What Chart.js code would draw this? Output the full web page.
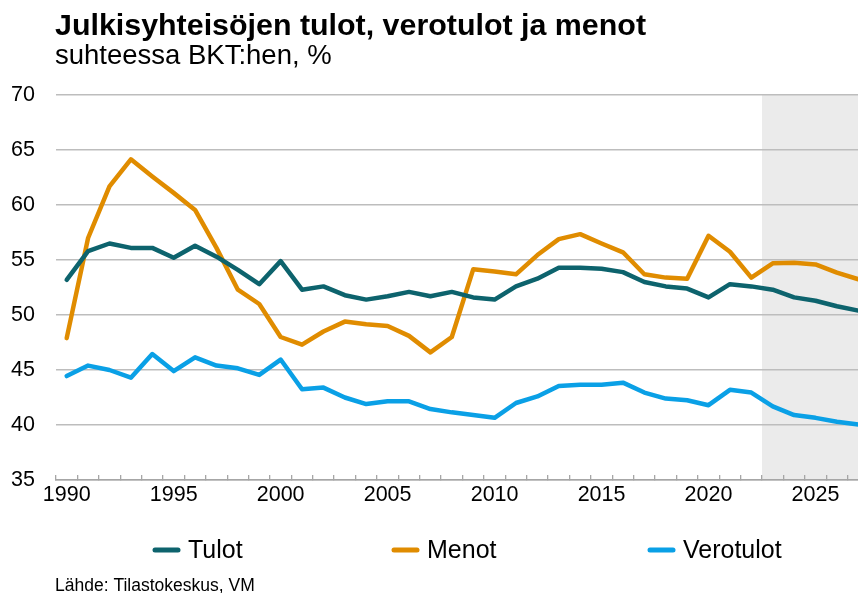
<!DOCTYPE html>
<html>
<head>
<meta charset="utf-8">
<script src="https://cdn.jsdelivr.net/npm/chart.js@4.4.0/dist/chart.umd.min.js"></script>
<style>
html, body { margin: 0; padding: 0; background: #fff; overflow: hidden; }
#wrap { width: 880px; height: 593px; position: relative; }
</style>
</head>
<body>
<div id="wrap"><canvas id="chart"></canvas></div>
<script>
"use strict";
const years = ["1990", "1991", "1992", "1993", "1994", "1995", "1996", "1997", "1998", "1999",
    "2000", "2001", "2002", "2003", "2004", "2005", "2006", "2007", "2008", "2009",
    "2010", "2011", "2012", "2013", "2014", "2015", "2016", "2017", "2018", "2019",
    "2020", "2021", "2022", "2023", "2024", "2025", "2026", "2027"];
const tulot = [53.2, 55.8, 56.5, 56.1, 56.1, 55.2, 56.3, 55.3, 54.1, 52.8,
    54.9, 52.3, 52.6, 51.8, 51.4, 51.7, 52.1, 51.7, 52.1, 51.6,
    51.4, 52.6, 53.3, 54.3, 54.3, 54.2, 53.9, 53.0, 52.6, 52.4,
    51.6, 52.8, 52.6, 52.3, 51.6, 51.3, 50.8, 50.4];
const menot = [47.9, 57.0, 61.7, 64.15, 62.6, 61.1, 59.55, 56.1, 52.3, 51.0,
    48.0, 47.3, 48.5, 49.4, 49.15, 49.0, 48.1, 46.6, 48.0, 54.15,
    53.95, 53.7, 55.45, 56.9, 57.35, 56.5, 55.7, 53.7, 53.4, 53.3,
    57.2, 55.75, 53.4, 54.7, 54.75, 54.6, 53.85, 53.25];
const verotulot = [44.45, 45.4, 45.0, 44.3, 46.45, 44.9, 46.15, 45.4, 45.15, 44.55,
    45.95, 43.25, 43.4, 42.5, 41.9, 42.15, 42.15, 41.45, 41.15, 40.9,
    40.65, 42.0, 42.6, 43.55, 43.65, 43.65, 43.85, 42.95, 42.4, 42.25,
    41.8, 43.2, 42.95, 41.7, 40.9, 40.65, 40.3, 40.05];
const seriesNames = ["Tulot", "Menot", "Verotulot"];
const forecastFrom = "2023";

const FONT = '"Liberation Sans", Arial, sans-serif';
const colors = ["#0d636d", "#e08c00", "#0aa0e6"];

// grey band behind the forecast years
const forecastShade = {
    id: 'forecastShade',
    beforeDraw(chart) {
        const x = chart.scales.x, area = chart.chartArea, ctx = chart.ctx;
        const i = years.indexOf(forecastFrom);
        const left = (x.getPixelForValue(i - 1) + x.getPixelForValue(i)) / 2;
        ctx.save();
        ctx.fillStyle = '#ebebeb';
        ctx.fillRect(left, area.top, area.right - left, area.bottom - area.top);
        ctx.restore();
    }
};

// title, subtitle, legend and source line
const texts = {
    id: 'texts',
    afterDraw(chart) {
        const ctx = chart.ctx;
        ctx.save();
        ctx.fillStyle = '#000';
        ctx.textBaseline = 'alphabetic';
        ctx.font = 'bold 30.4px ' + FONT;
        ctx.fillText("Julkisyhteisöjen tulot, verotulot ja menot", 55, 35);
        ctx.font = '27.5px ' + FONT;
        ctx.fillText("suhteessa BKT:hen, %", 55, 64);

        const legendX = [152, 391, 647];
        ctx.font = '25px ' + FONT;
        chart.data.datasets.forEach((ds, i) => {
            const x = legendX[i];
            ctx.strokeStyle = ds.borderColor;
            ctx.lineWidth = 5;
            ctx.lineCap = 'round';
            ctx.beginPath();
            ctx.moveTo(x + 3, 550);
            ctx.lineTo(x + 26, 550);
            ctx.stroke();
            ctx.fillText(ds.label, x + 36, 558);
        });

        ctx.font = '17.5px ' + FONT;
        ctx.fillText("Lähde: Tilastokeskus, VM", 55, 591);
        ctx.restore();
    }
};

function make_dataset(label, data, color) {
    return {
        label: label,
        data: data,
        borderColor: color,
        backgroundColor: color,
        borderWidth: 4.5,
        pointRadius: 0,
        tension: 0,
        borderJoinStyle: 'round',
        borderCapStyle: 'round',
        fill: false
    };
}

new Chart(document.getElementById('chart'), {
    type: 'line',
    data: {
        labels: years,
        datasets: [
            make_dataset(seriesNames[0], tulot, colors[0]),
            make_dataset(seriesNames[1], menot, colors[1]),
            make_dataset(seriesNames[2], verotulot, colors[2])
        ]
    },
    options: {
        responsive: true,
        maintainAspectRatio: false,
        animation: false,
        layout: {
            padding: { top: 95, bottom: 83, left: 0, right: 11 }
        },
        plugins: {
            legend: { display: false },
            tooltip: { enabled: false }
        },
        scales: {
            x: {
                type: 'category',
                offset: true,
                grid: {
                    offset: true,
                    drawOnChartArea: false,
                    tickLength: -5,
                    color: '#a6a6a6',
                    lineWidth: 1.3
                },
                border: { color: '#a6a6a6', width: 1.5 },
                ticks: {
                    autoSkip: false,
                    maxRotation: 0,
                    padding: 7,
                    color: '#000',
                    font: { family: FONT, size: 21.5 },
                    callback: (v, i) => (Number(years[i]) % 5 === 0 ? years[i] : '')
                },
                afterFit: (scale) => { scale.height = 30; }
            },
            y: {
                min: 35,
                max: 70,
                grid: {
                    color: '#bdbdbd',
                    lineWidth: 1.5,
                    drawTicks: false
                },
                border: { display: false },
                ticks: {
                    stepSize: 5,
                    padding: 21,
                    color: '#000',
                    font: { family: FONT, size: 21.5 }
                },
                afterFit: (scale) => { scale.width = 56; }
            }
        }
    },
    plugins: [forecastShade, texts]
});
</script>
</body>
</html>
